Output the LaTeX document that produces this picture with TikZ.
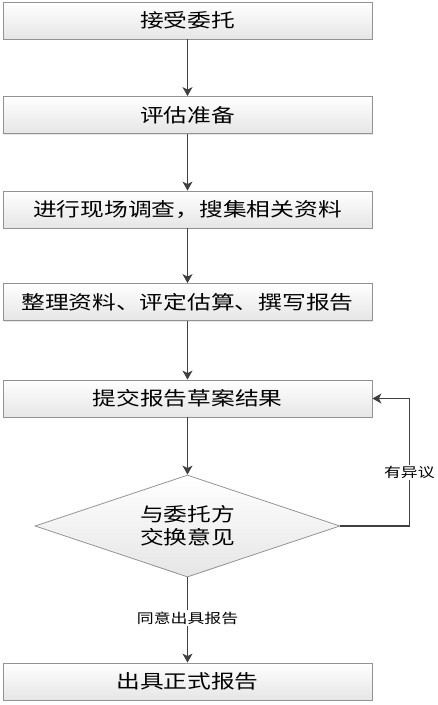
\documentclass[tikz,border=0pt]{standalone}
\usepackage{fontspec}
\newfontfamily\cjk[FakeStretch=1.25]{Noto Sans CJK SC}
\usetikzlibrary{arrows.meta,shapes.geometric,shadows}

\begin{document}
\begin{tikzpicture}[
    x=1pt, y=-1pt,
    >={Stealth[length=9pt, width=10pt, inset=2.5pt]},
    stepbox/.style={rectangle, draw=gray!85, line width=0.8pt, top color=white, bottom color=gray!20,
      drop shadow={shadow xshift=1.2pt, shadow yshift=-1.2pt, opacity=0.2},
      minimum width=369pt, minimum height=37pt, inner sep=0pt, font=\cjk\fontsize{19}{23}\selectfont},
    talkbox/.style={diamond, aspect=3, draw=gray!85, line width=0.8pt, top color=white, bottom color=gray!20,
      minimum width=305pt, minimum height=102pt, inner sep=0pt, align=center,
      font=\cjk\fontsize{19}{23}\selectfont},
    flow/.style={->, line width=1.3pt, draw=black!75},
    lbl/.style={fill=white, inner sep=1.5pt, font=\cjk\fontsize{13.5}{16}\selectfont}
  ]
  \useasboundingbox (0,0) rectangle (438,705);

  % Schritte
  \node[stepbox] (accept) at (187.5, 20.5)  {接受委托};
  \node[stepbox] (prep)   at (187.5, 115)   {评估准备};
  \node[stepbox] (survey) at (187.5, 209.5) {进行现场调查，搜集相关资料};
  \node[stepbox] (sort)   at (187.5, 302)   {整理资料、评定估算、撰写报告};
  \node[stepbox] (draft)  at (187.5, 398.5) {提交报告草案结果};
  \node[talkbox] (talk)   at (187.5, 526)   {与委托方\\交换意见};
  \node[stepbox] (final)  at (187.5, 681.5) {出具正式报告};

  % Rueckweg
  \coordinate (back) at ([xshift=37pt]draft.east);

  % Pfeile
  \draw[flow] (accept.south) -- (prep.north);
  \draw[flow] (prep.south)   -- (survey.north);
  \draw[flow] (survey.south) -- (sort.north);
  \draw[flow] (sort.south)   -- (draft.north);
  \draw[flow] (draft.south)  -- (talk.north);
  \draw[flow] (talk.south)   -- node[lbl, pos=0.48] {同意出具报告} (final.north);
  \draw[flow] (talk.east) -| node[lbl, pos=0.71] {有异议} (back) -- (draft.east);

\end{tikzpicture}
\end{document}
